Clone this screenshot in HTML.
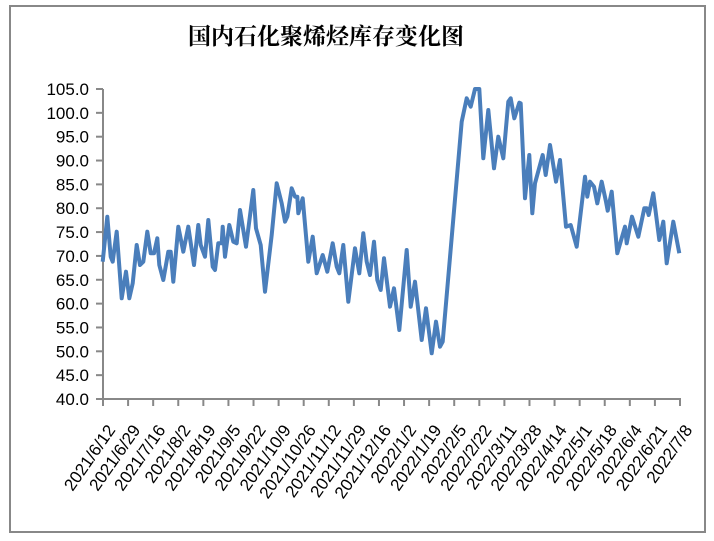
<!DOCTYPE html>
<html><head><meta charset="utf-8"><style>
html,body{margin:0;padding:0;background:#fff;width:714px;height:541px;overflow:hidden}
svg text{font-family:"Liberation Sans","Noto Sans CJK SC",sans-serif;fill:#000}
</style></head><body>
<svg width="714" height="541" viewBox="0 0 714 541">
<rect x="10" y="6" width="695" height="526" fill="#fff" stroke="#888" stroke-width="2"/>
<text x="326" y="44" text-anchor="middle" style="font-family:'Noto Serif CJK SC','Noto Sans CJK SC',serif;font-size:23px;font-weight:bold">国内石化聚烯烃库存变化图</text>
<g stroke="#888" stroke-width="2" fill="none">
<line x1="103" y1="89" x2="103" y2="400"/>
<line x1="103" y1="399" x2="681" y2="399"/>
</g>
<g id="yl" font-size="17" text-anchor="end"></g>
<g id="yt" stroke="#888" stroke-width="2"></g>
<g id="xl" font-size="17" text-anchor="end"></g>
<polyline fill="none" stroke="#4a7ebb" stroke-width="4" stroke-linejoin="round" points="102.7,261.7 107.3,216.7 110.7,256.7 112.7,261.7 116.7,231.7 121.7,298.3 126,271.7 129.3,298.3 132.7,283.3 136.7,245 140,265 143.3,261.7 147.3,231.7 150.7,253.3 154,253.3 157.3,238.3 159.3,265 163.3,280 168.3,251.7 170.7,251.7 173.3,281.7 178.3,226.7 183.3,251.7 188.3,226.7 194,265 198.3,225 200.7,245 205,256.7 208.3,220 212.7,266.7 215,270 218.3,243.3 221.7,243.3 222.7,226.7 225,256.7 229.3,225 233.3,241.7 236.7,243.3 240,210 246,246.7 253.3,190 256,228.3 260.7,245 265,291.7 271.7,235 276.7,183.3 281.7,203.3 285,221.7 287.3,216.7 291.7,188.3 295,196.7 297.3,196.7 298.3,213.3 302.7,198.3 308.3,261.7 312.7,236.7 316.7,273.3 322.7,255 327.3,271.7 332.7,243.3 336.7,266.7 339.3,273.3 343.3,245 348.3,301.7 355,248.3 359.3,273.3 363.3,233.3 366.7,261.7 370,275 374,241.7 377.3,280 380.7,290 384,258.3 390,306.7 394,288.3 399.3,330 406.7,250 410.7,306.7 415,281.7 421.7,340 426,308.3 431.7,353.3 436,321.7 440,346.7 442.7,341.7 461.7,121.7 466.7,98.3 470.7,106.7 475,89 479.3,89 483.3,158.3 488.3,110 494,168.3 498.3,136.7 503.3,158.3 508.3,101.7 510.7,98.3 514.3,118.3 519.3,102.7 520.7,103.3 525,198.3 529.3,155 532.3,213.3 535,183.3 542.7,155 545.7,175 550,145 556,181.7 560,160 566,226.7 570.7,225 576.7,246.7 585,176.7 587.3,196.7 590,181.7 594,186.7 597.3,203.3 601.7,181.7 606,201.7 607.7,210.7 611.7,191.7 617.3,253.3 625,226.7 626.7,243.3 632,216.7 638.3,236.7 644.3,208.3 646.7,208.3 648.7,215 653.3,193.3 659.3,240 663.3,221.7 666.7,263.3 673.3,221.7 679.3,253.3"/>
</svg>
<script>
var ns="http://www.w3.org/2000/svg";
var yl=document.getElementById('yl'),yt=document.getElementById('yt'),xl=document.getElementById('xl');
for(var i=0;i<=13;i++){var v=105-5*i,y=89+i*310/13;
var t=document.createElementNS(ns,'text');t.setAttribute('x',89);t.setAttribute('y',y+6);t.textContent=v.toFixed(1);yl.appendChild(t);
var l=document.createElementNS(ns,'line');l.setAttribute('x1',96);l.setAttribute('x2',103);l.setAttribute('y1',y);l.setAttribute('y2',y);yt.appendChild(l);}
var labs=["2021/6/12","2021/6/29","2021/7/16","2021/8/2","2021/8/19","2021/9/5","2021/9/22","2021/10/9","2021/10/26","2021/11/12","2021/11/29","2021/12/16","2022/1/2","2022/1/19","2022/2/5","2022/2/22","2022/3/11","2022/3/28","2022/4/14","2022/5/1","2022/5/18","2022/6/4","2022/6/21","2022/7/8"];
for(var j=0;j<labs.length;j++){var x=103+j*577/23;
var l=document.createElementNS(ns,'line');l.setAttribute('x1',x);l.setAttribute('x2',x);l.setAttribute('y1',399);l.setAttribute('y2',406);yt.appendChild(l);
var t=document.createElementNS(ns,'text');var ax=x+13,ay=430;t.setAttribute('x',ax);t.setAttribute('y',ay);t.setAttribute('transform','rotate(-55 '+ax+' '+ay+')');t.textContent=labs[j];xl.appendChild(t);}
</script>
</body></html>
